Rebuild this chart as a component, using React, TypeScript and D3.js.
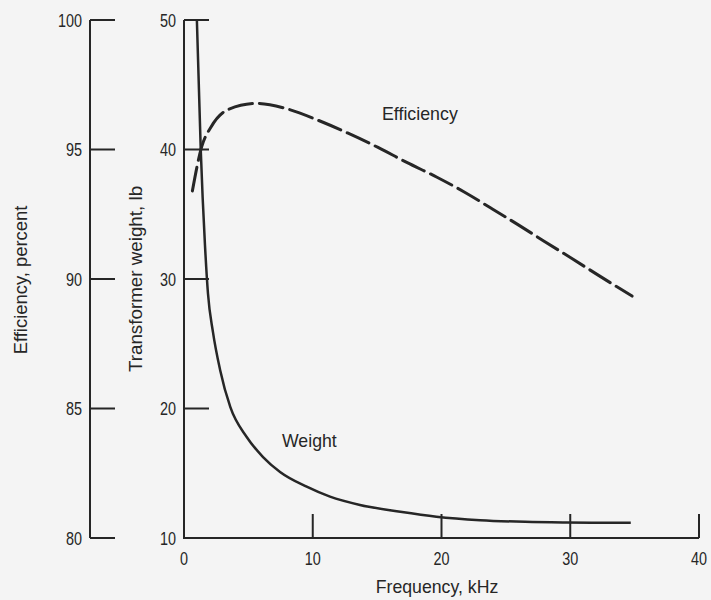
import React from "react";
import * as d3 from "d3";

// ---- data ----
const freqTicks = [0, 10, 20, 30, 40];
const weightTicks = [10, 20, 30, 40, 50];
const effTicks = [80, 85, 90, 95, 100];

const weightFreq = [1.0, 1.3, 1.63, 1.86, 2.25, 2.8, 3.6, 4.87, 6.14, 7.46, 9.53, 11.34, 13.67, 16.8, 19.6, 23.0, 26.5, 29.7, 32.3, 34.7];
const weightLb = [50, 40, 32.6, 28.9, 25.9, 23.0, 20.1, 17.8, 16.25, 15.1, 13.96, 13.19, 12.55, 12.03, 11.65, 11.38, 11.25, 11.2, 11.18, 11.18];

const effFreq = [0.65, 1.37, 2.1, 3.5, 5.67, 8.08, 10.56, 12.7, 15.07, 17.3, 19.65, 21.8, 23.8, 26.0, 28.0, 30.1, 32.2, 34.8];
const effPct = [93.4, 95.1, 95.87, 96.56, 96.78, 96.56, 96.1, 95.64, 95.08, 94.5, 93.93, 93.35, 92.75, 92.08, 91.45, 90.8, 90.14, 89.34];

const W = 711;
const H = 600;
const ink = "#262626";
const textFont = "'Liberation Sans', Arial, sans-serif";
const digitScale = 0.8;

export default function App() {
  const x = d3.scaleLinear().domain([0, 40]).range([184, 699]);
  const yW = d3.scaleLinear().domain([10, 50]).range([538, 20]);
  const yE = d3.scaleLinear().domain([80, 100]).range([538, 20]);

  const weightPts: [number, number][] = weightFreq.map((f, i) => [x(f), yW(weightLb[i])]);
  const effPts: [number, number][] = effFreq.map((f, i) => [x(f), yE(effPct[i])]);
  const line = d3.line().curve(d3.curveMonotoneX);

  const effAxisX = 90;
  const wAxisX = x(0);
  const tickLen = 25;
  const xTickLen = 24;

  const Digits = ({ tx, ty, anchor, children }: { tx: number; ty: number; anchor: string; children: any }) => (
    <text
      transform={`translate(${tx},${ty}) scale(${digitScale},1)`}
      textAnchor={anchor}
      fontFamily={textFont}
      fontSize={18}
      fill={ink}
    >
      {children}
    </text>
  );

  return (
    <svg
      width={W}
      height={H}
      style={{ position: "absolute", left: 0, top: 0 }}
      xmlns="http://www.w3.org/2000/svg"
    >
      <rect x={0} y={0} width={W} height={H} fill="#f4f4f4" />

      {/* Efficiency axis */}
      <line x1={effAxisX} x2={effAxisX} y1={yE(100)} y2={yE(80)} stroke={ink} strokeWidth={2} />
      {effTicks.map((t) => (
        <g key={"e" + t}>
          <line x1={effAxisX} x2={effAxisX + tickLen} y1={yE(t)} y2={yE(t)} stroke={ink} strokeWidth={2} />
          <Digits tx={82} ty={yE(t) + 6.5} anchor="end">{t}</Digits>
        </g>
      ))}
      <text
        transform={`translate(27,280) rotate(-90)`}
        textAnchor="middle"
        fontFamily={textFont}
        fontSize={18.4}
        fill={ink}
      >
        Efficiency, percent
      </text>

      {/* Weight axis */}
      <line x1={wAxisX} x2={wAxisX} y1={yW(50)} y2={yW(10)} stroke={ink} strokeWidth={2} />
      {weightTicks.map((t) => (
        <g key={"w" + t}>
          <line x1={wAxisX} x2={wAxisX + tickLen} y1={yW(t)} y2={yW(t)} stroke={ink} strokeWidth={2} />
          <Digits tx={176} ty={yW(t) + 6.5} anchor="end">{t}</Digits>
        </g>
      ))}
      <text
        transform={`translate(141.5,279) rotate(-90)`}
        textAnchor="middle"
        fontFamily={textFont}
        fontSize={18.8}
        fill={ink}
      >
        Transformer weight, lb
      </text>

      {/* Frequency axis */}
      <line x1={wAxisX - 1} x2={x(40)} y1={yW(10)} y2={yW(10)} stroke={ink} strokeWidth={2} />
      {freqTicks.map((t) => (
        <g key={"f" + t}>
          {t > 0 && (
            <line x1={x(t)} x2={x(t)} y1={yW(10)} y2={yW(10) - xTickLen} stroke={ink} strokeWidth={2} />
          )}
          <Digits tx={x(t)} ty={565} anchor="middle">{t}</Digits>
        </g>
      ))}
      <text x={437} y={593} textAnchor="middle" fontFamily={textFont} fontSize={17.7} fill={ink}>
        Frequency, kHz
      </text>

      {/* Curves */}
      <path d={line(weightPts) || ""} fill="none" stroke={ink} strokeWidth={2.5} />
      <path
        d={line(effPts) || ""}
        fill="none"
        stroke={ink}
        strokeWidth={3}
        strokeDasharray="24 7"
        strokeLinecap="round"
      />

      {/* Curve labels */}
      <text x={382} y={120} fontFamily={textFont} fontSize={17.8} fill={ink}>
        Efficiency
      </text>
      <text x={282} y={447} fontFamily={textFont} fontSize={17.7} fill={ink}>
        Weight
      </text>
    </svg>
  );
}
